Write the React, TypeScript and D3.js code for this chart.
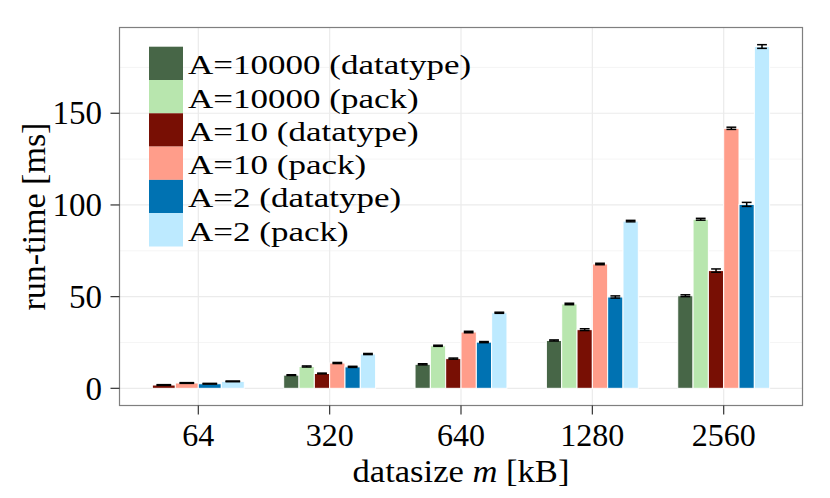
import * as d3 from "d3";

const categories = ["64", "320", "640", "1280", "2560"];

const seriesNames = [
  "A=10000 (datatype)",
  "A=10000 (pack)",
  "A=10 (datatype)",
  "A=10 (pack)",
  "A=2 (datatype)",
  "A=2 (pack)",
];

const seriesColors = ["#476647", "#b8e6ae", "#780f04", "#ff9d8a", "#0072b2", "#bdeaff"];

// mean run-time [ms] per datasize, null = not measured
const a10000Datatype = [null, 7.2, 13.1, 26.1, 50.5];
const a10000Pack = [null, 11.9, 23.2, 46.0, 92.2];
const a10Datatype = [1.8, 8.1, 16.2, 32.0, 64.2];
const a10Pack = [2.9, 13.8, 30.7, 67.8, 141.8];
const a2Datatype = [2.5, 11.7, 25.2, 49.8, 100.3];
const a2Pack = [3.8, 18.7, 41.2, 91.2, 186.4];

// error bar half-widths
const a10000DatatypeErr = [null, 0.2, 0.3, 0.3, 0.5];
const a10000PackErr = [null, 0.3, 0.3, 0.4, 0.5];
const a10DatatypeErr = [0.2, 0.2, 0.3, 0.5, 0.9];
const a10PackErr = [0.2, 0.3, 0.4, 0.4, 0.6];
const a2DatatypeErr = [0.2, 0.3, 0.3, 0.6, 1.1];
const a2PackErr = [0.2, 0.3, 0.3, 0.4, 1.0];

const yTicks = [0, 50, 100, 150];
const yMinor = [25, 75, 125, 175];

const values = [a10000Datatype, a10000Pack, a10Datatype, a10Pack, a2Datatype, a2Pack];
const errors = [a10000DatatypeErr, a10000PackErr, a10DatatypeErr, a10PackErr, a2DatatypeErr, a2PackErr];

const FONT = "'Liberation Serif', 'Times New Roman', serif";

export default function App() {
  const width = 830;
  const height = 498;
  const panel = { left: 119.5, right: 802.5, top: 27.5, bottom: 405.5 };

  const x = d3
    .scaleBand<string>()
    .domain(categories)
    .range([panel.left, panel.right])
    .paddingInner(0)
    .paddingOuter(0.1);

  const hi = d3.max(values.flatMap((s, i) => s.map((v, j) => (v == null ? 0 : v + (errors[i][j] ?? 0)))))!;
  const lo = 0;
  const pad = (hi - lo) * 0.05;
  const y = d3.scaleLinear().domain([lo - pad, hi + pad]).range([panel.bottom, panel.top]);

  const dodge = x.bandwidth() * 0.7;

  const bars = categories.flatMap((cat, j) => {
    const present = seriesNames.map((_, i) => i).filter((i) => values[i][j] != null);
    const inner = d3
      .scaleBand<number>()
      .domain(present)
      .range([x(cat)! + x.bandwidth() / 2 - dodge / 2, x(cat)! + x.bandwidth() / 2 + dodge / 2]);
    return present.map((i) => ({
      key: `${i}-${j}`,
      x0: inner(i)!,
      w: inner.bandwidth(),
      v: values[i][j] as number,
      e: errors[i][j] as number,
      color: seriesColors[i],
    }));
  });

  const legendTop = 46.7;
  const legendRow = 33.3;

  return (
    <svg
      width={width}
      height={height}
      style={{ position: "absolute", left: 0, top: 0, background: "#fff" }}
      fontFamily={FONT}
    >
      <rect x={0} y={0} width={width} height={height} fill="#fff" />
      {/* grid */}
      {yMinor.map((t) => (
        <line key={`mi${t}`} x1={panel.left} x2={panel.right} y1={y(t)} y2={y(t)} stroke="#f5f5f5" strokeWidth={1} />
      ))}
      {yTicks.map((t) => (
        <line key={`ma${t}`} x1={panel.left} x2={panel.right} y1={y(t)} y2={y(t)} stroke="#ebebeb" strokeWidth={1.2} />
      ))}
      {categories.map((c) => (
        <line
          key={`vx${c}`}
          x1={x(c)! + x.bandwidth() / 2}
          x2={x(c)! + x.bandwidth() / 2}
          y1={panel.top}
          y2={panel.bottom}
          stroke="#ebebeb"
          strokeWidth={1.2}
        />
      ))}

      {/* bars */}
      {bars.map((b) => (
        <rect
          key={b.key}
          x={b.x0}
          y={y(b.v)}
          width={b.w}
          height={y(0) - y(b.v)}
          fill={b.color}
          stroke="#fff"
          strokeWidth={1}
        />
      ))}
      {/* error bars */}
      {bars.map((b) => {
        const cx = b.x0 + b.w / 2;
        const hw = b.w * 0.32;
        return (
          <g key={`e${b.key}`} stroke="#000" strokeWidth={1.5}>
            <line x1={cx - hw} x2={cx + hw} y1={y(b.v + b.e)} y2={y(b.v + b.e)} />
            <line x1={cx - hw} x2={cx + hw} y1={y(b.v - b.e)} y2={y(b.v - b.e)} />
            <line x1={cx} x2={cx} y1={y(b.v + b.e)} y2={y(b.v - b.e)} />
          </g>
        );
      })}

      {/* legend */}
      {seriesNames.map((name, i) => (
        <g key={name}>
          <rect x={149} y={legendTop + i * legendRow} width={34} height={legendRow} fill={seriesColors[i]} />
          <text
            transform={`translate(188,${legendTop + i * legendRow + 27.5}) scale(1.25,1)`}
            fontSize={28}
            fill="#000"
          >
            {name}
          </text>
        </g>
      ))}

      {/* panel border */}
      <rect
        x={panel.left}
        y={panel.top}
        width={panel.right - panel.left}
        height={panel.bottom - panel.top}
        fill="none"
        stroke="#7f7f7f"
        strokeWidth={1.2}
      />

      {/* y axis */}
      {yTicks.map((t) => (
        <g key={`yt${t}`}>
          <line x1={panel.left - 9} x2={panel.left} y1={y(t)} y2={y(t)} stroke="#333" strokeWidth={1.2} />
          <text x={102} y={y(t)} dy="0.34em" textAnchor="end" fontSize={33} fill="#000">
            {t}
          </text>
        </g>
      ))}
      {/* x axis */}
      {categories.map((c) => (
        <g key={`xt${c}`}>
          <line
            x1={x(c)! + x.bandwidth() / 2}
            x2={x(c)! + x.bandwidth() / 2}
            y1={panel.bottom}
            y2={panel.bottom + 9}
            stroke="#333"
            strokeWidth={1.2}
          />
          <text x={x(c)! + x.bandwidth() / 2} y={446} textAnchor="middle" fontSize={32} fill="#000">
            {c}
          </text>
        </g>
      ))}

      <text
        transform={`translate(${(panel.left + panel.right) / 2},482) scale(1.08,1)`}
        textAnchor="middle"
        fontSize={32}
        fill="#000"
      >
        datasize <tspan fontStyle="italic">m</tspan> [kB]
      </text>
      <text
        transform={`translate(45,${(panel.top + panel.bottom) / 2}) rotate(-90)`}
        textAnchor="middle"
        fontSize={34}
        fill="#000"
      >
        run-time [ms]
      </text>
    </svg>
  );
}
